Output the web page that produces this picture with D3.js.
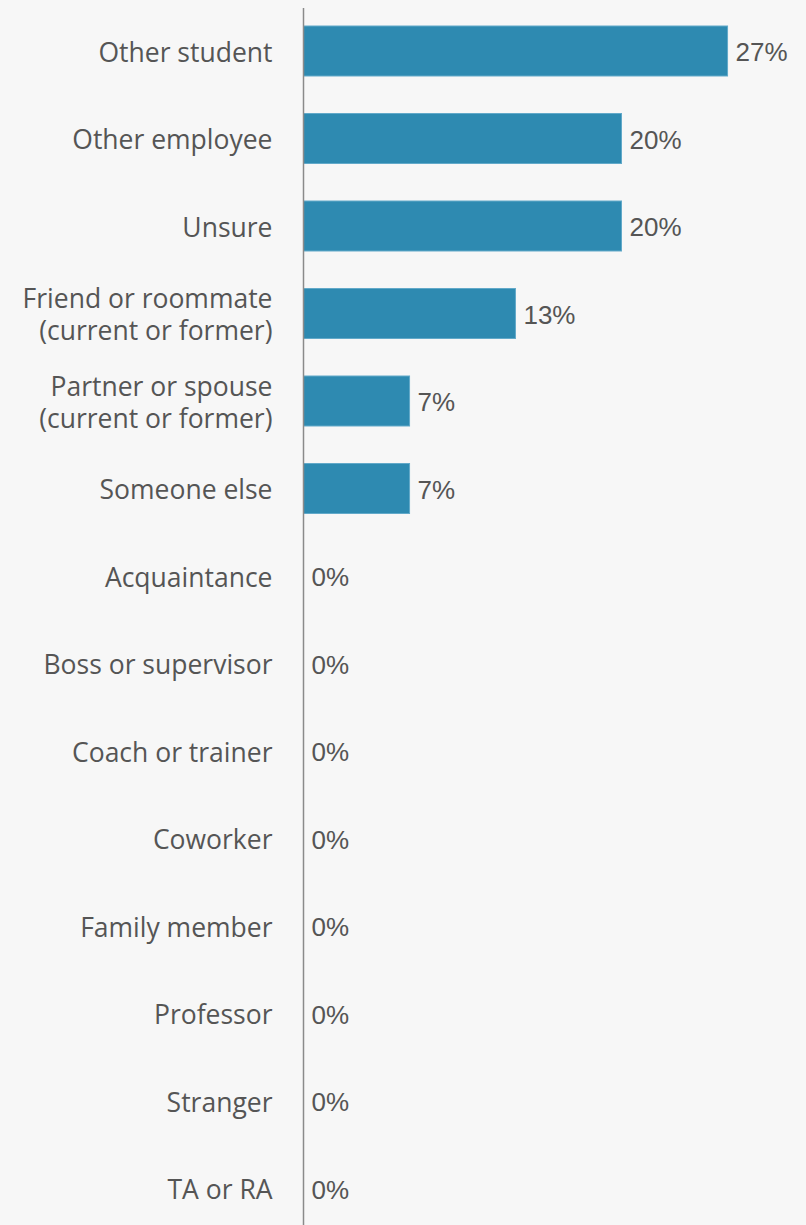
<!DOCTYPE html>
<html>
<head>
<meta charset="utf-8">
<script src="https://cdn.jsdelivr.net/npm/d3@7"></script>
<style>
  html, body { margin: 0; padding: 0; background: #f7f7f7; }
  svg { display: block; }
</style>
</head>
<body>
<div id="chart"></div>
<script>
// Who was the person responsible? Share of responses (n = 15)
const categories = [
  "Other student",
  "Other employee",
  "Unsure",
  "Friend or roommate\n(current or former)",
  "Partner or spouse\n(current or former)",
  "Someone else",
  "Acquaintance",
  "Boss or supervisor",
  "Coach or trainer",
  "Coworker",
  "Family member",
  "Professor",
  "Stranger",
  "TA or RA"
];
const percentValues = [26.67, 20, 20, 13.33, 6.67, 6.67, 0, 0, 0, 0, 0, 0, 0, 0];

const W = 806, H = 1225;
const axisX = 303.5;

const data = categories.map((c, i) => ({ label: c, value: percentValues[i] }));

const svg = d3.select("#chart").append("svg")
  .attr("width", W).attr("height", H);

svg.append("rect").attr("width", W).attr("height", H).attr("fill", "#f7f7f7");

const y = d3.scaleBand()
  .domain(categories)
  .range([7.25, 1232.25])
  .paddingInner(0.4286)
  .paddingOuter(0.2143);

const x = d3.scaleLinear()
  .domain([0, 30])
  .range([axisX, axisX + 477]);

const fmt = v => d3.format(".0f")(v) + "%";

// Bars
svg.append("g").selectAll("rect")
  .data(data.filter(d => d.value > 0))
  .join("rect")
  .attr("x", x(0))
  .attr("y", d => y(d.label))
  .attr("width", d => x(d.value) - x(0))
  .attr("height", y.bandwidth())
  .attr("fill", "#2e8ab1")
  .attr("stroke", "#62a9c9")
  .attr("stroke-width", 1);

// Vertical baseline
svg.append("line")
  .attr("x1", axisX).attr("x2", axisX)
  .attr("y1", 8).attr("y2", H)
  .attr("stroke", "#8a8a8a")
  .attr("stroke-width", 1.5);

// Category labels
const lineH = 32;
const labels = svg.append("g")
  .attr("font-family", "'Open Sans', sans-serif")
  .attr("font-size", 26.5)
  .attr("fill", "#555555")
  .attr("text-anchor", "end");

labels.selectAll("text")
  .data(data)
  .join("text")
  .attr("x", axisX - 31)
  .attr("y", d => y(d.label) + y.bandwidth() / 2)
  .each(function(d) {
    const lines = d.label.split("\n");
    const t = d3.select(this);
    lines.forEach((ln, k) => {
      t.append("tspan")
        .attr("x", axisX - 31)
        .attr("dy", k === 0 ? ((-(lines.length - 1) / 2) * lineH + 10.5) : lineH)
        .text(ln);
    });
  });

// Value labels
svg.append("g")
  .attr("font-family", "'Liberation Sans', Arial, sans-serif")
  .attr("font-size", 26)
  .attr("fill", "#555555")
  .selectAll("text")
  .data(data)
  .join("text")
  .attr("x", d => x(d.value) + 8)
  .attr("y", d => y(d.label) + y.bandwidth() / 2 + 10)
  .text(d => fmt(d.value));
</script>
</body>
</html>
